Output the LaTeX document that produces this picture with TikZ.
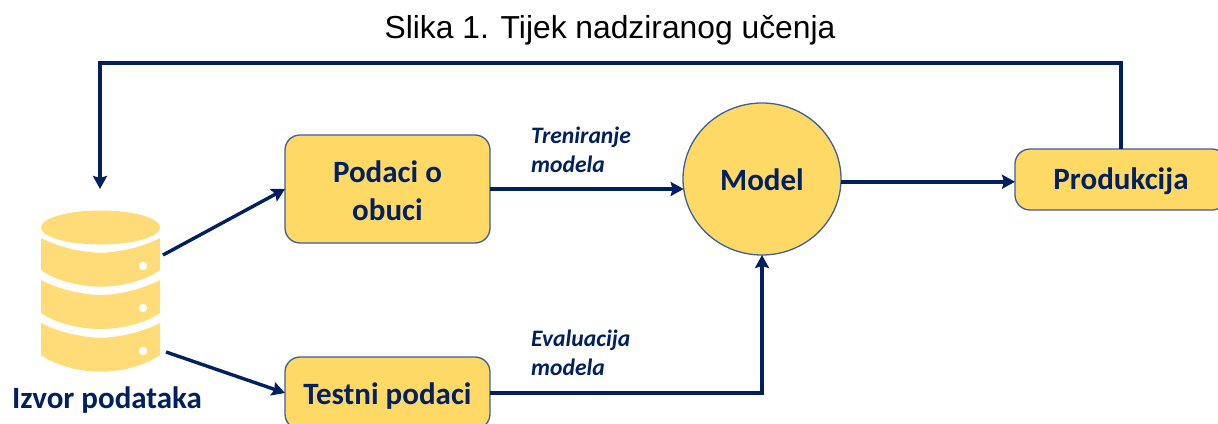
\documentclass[tikz,border=0pt]{standalone}
\usepackage{fontspec}
\setmainfont{Carlito}
\newfontfamily\titlefont{Liberation Sans}
\usetikzlibrary{arrows.meta,shapes.geometric}
\definecolor{navy}{HTML}{002060}
\definecolor{gold}{HTML}{FFD966}
\definecolor{golddb}{HTML}{FFDC78}
\definecolor{edge}{HTML}{3F5F96}
\newcommand{\lowtext}[2]{\raisebox{-#1pt}[0pt][0pt]{#2}}
\tikzset{
  box/.style={draw=edge,line width=1.3pt,fill=gold,rounded corners=15pt,align=center,inner sep=0pt,outer sep=0pt,text=navy,font=\bfseries\fontsize{31}{38}\selectfont},
  link/.style={draw=navy,line width=3.4pt,-{Stealth[length=13pt,width=14pt,inset=2pt]}},
  thick link/.style={link,line width=4.2pt},
  lbl/.style={text=navy,font=\bfseries\itshape\fontsize{23.6}{29}\selectfont,align=left,anchor=north west,inner sep=0pt},
  dbdot/.style={fill=white,draw=none}
}
\begin{document}
\begin{tikzpicture}[x=1pt,y=-1pt]
\useasboundingbox (0,0) rectangle (1218,423);
\clip (0,0) rectangle (1218,423);
\node[font=\titlefont\fontsize{31.8}{38}\selectfont,text=black,inner sep=0pt] (title) at (610,30) {Slika 1. Tijek nadziranog učenja};
% database icon
\fill[golddb] (41,227.5) arc[x radius=59.5,y radius=17,start angle=180,end angle=-180];
\fill[golddb] (41,238) .. controls (60,248) and (85,252.7) .. (100.5,252.7) .. controls (116,252.7) and (141,248) .. (160,238) -- (160,270) .. controls (145,281) and (120,286.7) .. (100.5,286.7) .. controls (81,286.7) and (56,281) .. (41,270) -- cycle;
\fill[golddb] (41,280) .. controls (60,290) and (85,295) .. (100.5,295) .. controls (116,295) and (141,290) .. (160,280) -- (160,313) .. controls (145,323.5) and (120,329) .. (100.5,329) .. controls (81,329) and (56,323.5) .. (41,313) -- cycle;
\fill[golddb] (41,323) .. controls (60,333) and (85,337.7) .. (100.5,337.7) .. controls (116,337.7) and (141,333) .. (160,323) -- (160,355) .. controls (145,366) and (120,371.7) .. (100.5,371.7) .. controls (81,371.7) and (56,366) .. (41,355) -- cycle;
\fill[dbdot] (143,266) circle (4.2);
\fill[dbdot] (143,308) circle (4.2);
\fill[dbdot] (143,351) circle (4.2);
\node[inner sep=0pt,minimum width=119pt,minimum height=161pt] (db) at (100.5,291) {};
\coordinate (dbtop) at (100,189);
\coordinate (dbup) at (163,255);
\coordinate (dbdown) at (166,352);
\node[text=navy,font=\bfseries\fontsize{31}{35}\selectfont,inner sep=0pt] (src) at (107,400) {Izvor podataka};
% boxes
\node[box,minimum width=205pt,minimum height=108pt] (train) at (387.5,189) {\rule{0pt}{26pt}Podaci o\\[0pt]obuci};
\node[box,minimum width=205pt,minimum height=72pt] (test) at (387.5,393) {\lowtext{11}{Testni podaci}};
\node[box,ellipse,rounded corners=0pt,minimum width=158pt,minimum height=152pt] (model) at (762,179) {\lowtext{11}{Model}};
\node[box,minimum width=212pt,minimum height=61pt] (prod) at (1121,179.5) {\lowtext{10}{Produkcija}};
% labels
\node[lbl] (l1) at (531,127) {Treniranje\\modela};
\node[lbl] (l2) at (531,330) {Evaluacija\\modela};
% connectors
\draw[link] (prod.north) -- ++(0,-86) -| (dbtop);
\draw[link] (dbup) -- (train.west);
\draw[link] (dbdown) -- (test.west);
\draw[thick link] (train.east) -- (train.east -| model.187.3);
\draw[link] (test.east) -| (model.south);
\draw[thick link] (model.358) -- (model.358 -| prod.west);
\end{tikzpicture}
\end{document}
